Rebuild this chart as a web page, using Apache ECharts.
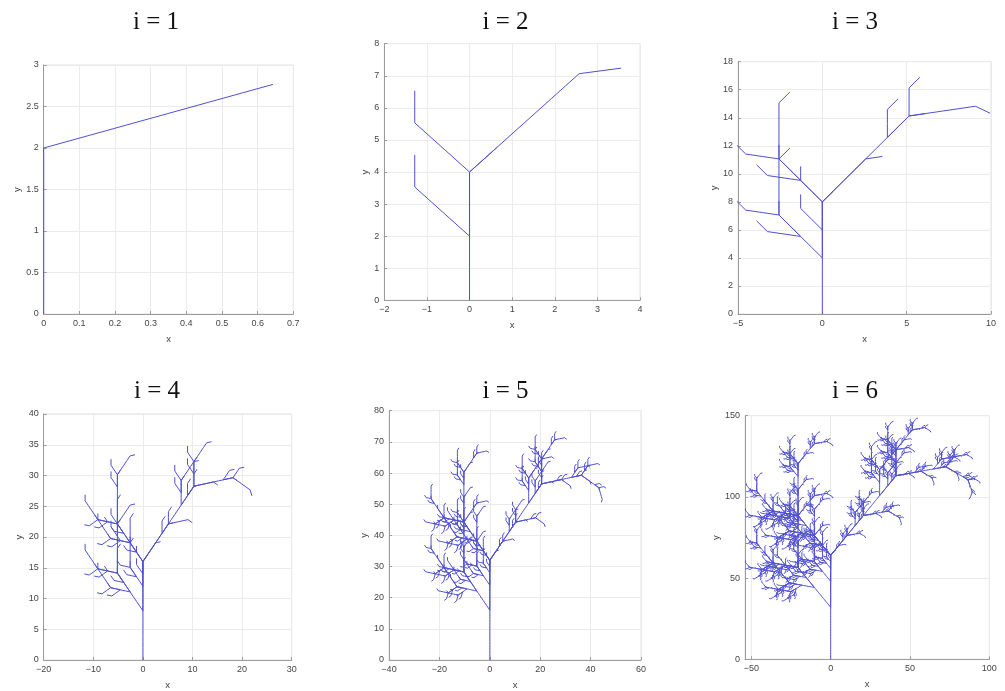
<!DOCTYPE html>
<html><head><meta charset="utf-8">
<script src="https://cdn.jsdelivr.net/npm/echarts@6/dist/echarts.min.js"></script>
<style>html,body{margin:0;padding:0;background:#fff}#c{width:1005px;height:691px}</style>
</head><body><div id="c"></div>
<script>
// ---- data: L-system (trunk doubles each step, 40° branching)
const iterations = [1, 2, 3, 4, 5, 6];
const titles = ['i = 1', 'i = 2', 'i = 3', 'i = 4', 'i = 5', 'i = 6'];
const lsysAxiom = 'X';
const lsysRuleX = 'F[-X][X]F[-X]+FX';
const lsysRuleF = 'FF';
const turnAngleDeg = 40;
const stepLength = 1;

// ---- axes (limits and ticks)
const xMin = [0, -2, -5, -20, -40, -54];
const xMax = [0.7, 4, 10, 30, 60, 100];
const xTickValues = [
  [0, 0.1, 0.2, 0.3, 0.4, 0.5, 0.6, 0.7],
  [-2, -1, 0, 1, 2, 3, 4],
  [-5, 0, 5, 10],
  [-20, -10, 0, 10, 20, 30],
  [-40, -20, 0, 20, 40, 60],
  [-50, 0, 50, 100]
];
const yMin = [0, 0, 0, 0, 0, 0];
const yMax = [3, 8, 18, 40, 80, 150];
const yTickValues = [
  [0, 0.5, 1, 1.5, 2, 2.5, 3],
  [0, 1, 2, 3, 4, 5, 6, 7, 8],
  [0, 2, 4, 6, 8, 10, 12, 14, 16, 18],
  [0, 5, 10, 15, 20, 25, 30, 35, 40],
  [0, 10, 20, 30, 40, 50, 60, 70, 80],
  [0, 50, 100, 150]
];

// ---- layout
const grids = [
  [43.7, 65, 249.6, 249],
  [384.3, 43.7, 255.7, 256.6],
  [738, 61.7, 253, 252.3],
  [43.7, 414, 248, 247],
  [389, 410.7, 252, 251.3],
  [745, 415.7, 244.3, 243.6]
];
const titlePos = [[156, 22.5], [505.5, 22.5], [855, 22.5], [157, 391], [505.5, 391], [855, 391]];
const yNameGap = [19.5, 12, 19, 18.5, 20, 23];

function expand(n) {
  let s = lsysAxiom;
  for (let k = 0; k < n; k++) {
    let t = '';
    for (const ch of s) {
      if (ch === 'X') t += lsysRuleX;
      else if (ch === 'F') t += lsysRuleF;
      else t += ch;
    }
    s = t;
  }
  return s;
}
function turtle(str) {
  const paths = [];
  let x = 0, y = 0, h = 0;
  const stack = [];
  let cur = null;
  const a = turnAngleDeg * Math.PI / 180;
  for (const ch of str) {
    if (ch === 'F') {
      if (!cur) { cur = [[x, y]]; }
      x += stepLength * Math.sin(h);
      y += stepLength * Math.cos(h);
      cur.push([x, y]);
    } else if (ch === '+') { h += a; }
    else if (ch === '-') { h -= a; }
    else if (ch === '[') { stack.push([x, y, h]); }
    else if (ch === ']') {
      if (cur) { paths.push({ coords: cur }); cur = null; }
      const st = stack.pop(); x = st[0]; y = st[1]; h = st[2];
    }
  }
  if (cur) paths.push({ coords: cur });
  return paths;
}
const fmt = v => String(+v.toFixed(4)).replace('-', '\u2212');
const axisGray = '#9c9c9c';
const option = {
  animation: false,
  backgroundColor: '#fff',
  grid: [], xAxis: [], yAxis: [], series: [],
  graphic: []
};
iterations.forEach((it, k) => {
  const g = grids[k];
  option.grid.push({ left: g[0], top: g[1], width: g[2], height: g[3], show: true, borderColor: '#e2e2e2', borderWidth: 1, containLabel: false });
  const common = {
    gridIndex: k, type: 'value',
    axisLine: { show: true, onZero: false, lineStyle: { color: axisGray, width: 1 } },
    axisTick: { show: true, inside: true, length: 3, lineStyle: { color: axisGray } },
    splitLine: { show: true, lineStyle: { color: '#ebebeb', width: 1 } },
    nameLocation: 'middle',
    nameTextStyle: { color: '#404040', fontSize: 9.5, fontFamily: 'Liberation Sans' }
  };
  option.xAxis.push(Object.assign({}, common, {
    min: xMin[k], max: xMax[k], name: 'x', nameGap: 20,
    axisTick: Object.assign({}, common.axisTick, { customValues: xTickValues[k] }),
    axisLabel: { customValues: xTickValues[k], formatter: fmt, color: '#454545', fontSize: 9, fontFamily: 'Liberation Sans', margin: 5 }
  }));
  option.yAxis.push(Object.assign({}, common, {
    min: yMin[k], max: yMax[k], name: 'y', nameGap: yNameGap[k],
    axisTick: Object.assign({}, common.axisTick, { customValues: yTickValues[k] }),
    axisLabel: { customValues: yTickValues[k], formatter: fmt, color: '#454545', fontSize: 9, fontFamily: 'Liberation Sans', margin: 5 }
  }));
  option.series.push({
    type: 'lines', coordinateSystem: 'cartesian2d', xAxisIndex: k, yAxisIndex: k,
    polyline: true, clip: true, silent: true,
    lineStyle: { color: '#5050d0', width: 1, opacity: 1 },
    data: turtle(expand(it))
  });
  option.graphic.push({
    type: 'text', x: titlePos[k][0], y: titlePos[k][1],
    style: { text: titles[k], fill: '#111', font: '25px "Liberation Serif"', textAlign: 'center', textVerticalAlign: 'middle' }
  });
});
const chart = echarts.init(document.getElementById('c'), null, { renderer: 'canvas' });
chart.setOption(option);
</script></body></html>
